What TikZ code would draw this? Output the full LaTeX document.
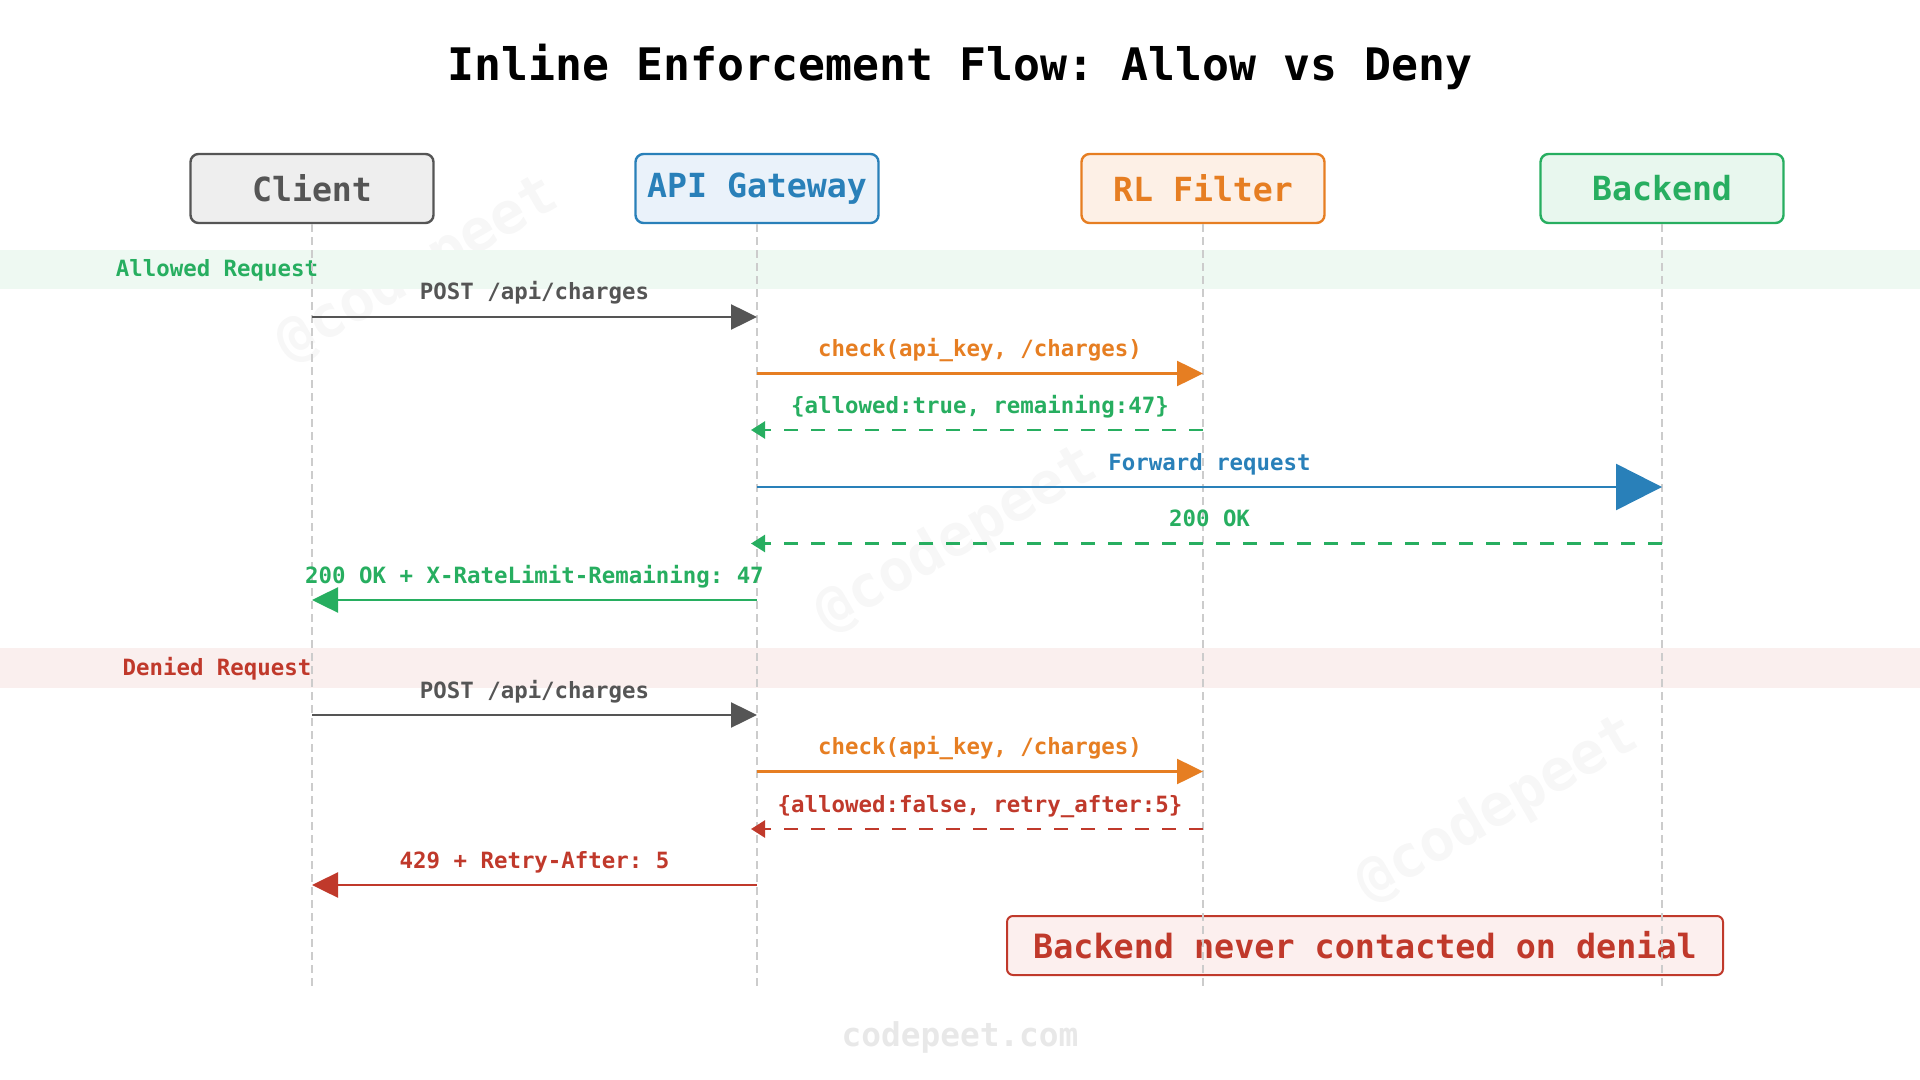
\documentclass[tikz,border=0pt]{standalone}
\usepackage{fontspec}
\setmonofont{DejaVu Sans Mono}
\usepackage{tikz}
\usetikzlibrary{arrows.meta,positioning}
\definecolor{inkgray}{HTML}{555555}
\definecolor{gwblue}{HTML}{2980B9}
\definecolor{rlorange}{HTML}{E67E22}
\definecolor{okgreen}{HTML}{27AE60}
\definecolor{denyred}{HTML}{C0392B}
\definecolor{lifegray}{HTML}{CCCCCC}
\definecolor{clfill}{HTML}{EEEEEE}
\definecolor{gwfill}{HTML}{EAF2FA}
\definecolor{rlfill}{HTML}{FDF0E6}
\definecolor{befill}{HTML}{E8F7EE}
\definecolor{notefill}{HTML}{FCEFEE}
\tikzset{
  actor/.style={draw, rounded corners=4pt, line width=1.2pt, minimum width=121.5pt, minimum height=34.5pt,
                font=\ttfamily\bfseries\fontsize{16.6}{20}\selectfont},
  life/.style={lifegray, line width=0.75pt, dash pattern=on 4pt off 2.5pt},
  msg/.style={-{Triangle[length=13pt,width=12.5pt]}, line width=1.25pt},
  ret/.style={-{Triangle[length=7pt,width=8.5pt]}, line width=1.25pt, dash pattern=on 7pt off 6.5pt, shorten >=-3pt},
  lbl/.style={midway, anchor=base, yshift=8.5pt, font=\ttfamily\bfseries\fontsize{11.2}{13}\selectfont},
  blabel/.style={anchor=base, font=\ttfamily\bfseries\fontsize{11.2}{13}\selectfont},
  notebox/.style={draw=denyred, fill=notefill, text=denyred, rounded corners=3pt, line width=1pt,
                  minimum width=358pt, minimum height=29.5pt, font=\ttfamily\bfseries\fontsize{16.7}{20}\selectfont},
  wm/.style={rotate=30, black!3, font=\ttfamily\bfseries\fontsize{29}{34}\selectfont},
  foot/.style={anchor=base, black!9, font=\ttfamily\bfseries\fontsize{16.4}{20}\selectfont}
}

\begin{document}
\begin{tikzpicture}[x=0.5pt, y=-0.5pt]
\useasboundingbox (0,0) rectangle (1920,1080);
% watermarks and bands
\foreach \i/\x/\y in {1/418/270, 2/957/540, 3/1498/810}
  \node[wm] (wm\i) at (\x,\y) {@codepeet};
\fill[okgreen!8] (0,250) rectangle (1920,289);
\fill[denyred!8] (0,648) rectangle (1920,688);
\node[blabel, okgreen] (alw) at (217,277) {Allowed Request};
\node[blabel, denyred] (dny) at (217,675) {Denied Request};

\node[anchor=base, font=\ttfamily\bfseries\fontsize{22.4}{26}\selectfont] (ttl) at (960,81) {Inline Enforcement Flow: Allow vs Deny};

% participants
\node[actor, draw=inkgray, fill=clfill, text=inkgray] (cl) at (312,188.5) {Client};
\node[actor, draw=gwblue, fill=gwfill, text=gwblue] (gw) at (757,188.5) {API Gateway};
\node[actor, draw=rlorange, fill=rlfill, text=rlorange] (rl) at (1203,188.5) {RL Filter};
\node[actor, draw=okgreen, fill=befill, text=okgreen] (be) at (1662,188.5) {Backend};

\node[notebox] (nt) at (1365,945.5) {Backend never contacted on denial};

\foreach \r/\y in {a1/317, a2/373.5, a3/430, a4/487, a5/543.5, a6/600, d1/715, d2/771.5, d3/829, d4/885, bot/986}
  \coordinate (\r) at (0,\y);
\foreach \a in {cl,gw,rl,be}
  \draw[life] (\a.south) -- (\a |- bot);

% allowed
\draw[msg, inkgray] (cl |- a1) -- node[lbl] {POST /api/charges} (gw |- a1);
\draw[msg, rlorange] (gw |- a2) -- node[lbl] {check(api\_key, /charges)} (rl |- a2);
\draw[ret, okgreen] (rl |- a3) -- node[lbl] {\{allowed:true, remaining:47\}} (gw |- a3);
\draw[msg, gwblue, -{Triangle[length=23pt,width=23pt]}] (gw |- a4) -- node[lbl] {Forward request} (be |- a4);
\draw[ret, okgreen] (be |- a5) -- node[lbl] {200 OK} (gw |- a5);
\draw[msg, okgreen] (gw |- a6) -- node[lbl] {200 OK + X-RateLimit-Remaining: 47} (cl |- a6);

% denied
\draw[msg, inkgray] (cl |- d1) -- node[lbl] {POST /api/charges} (gw |- d1);
\draw[msg, rlorange] (gw |- d2) -- node[lbl] {check(api\_key, /charges)} (rl |- d2);
\draw[ret, denyred] (rl |- d3) -- node[lbl] {\{allowed:false, retry\_after:5\}} (gw |- d3);
\draw[msg, denyred] (gw |- d4) -- node[lbl] {429 + Retry-After: 5} (cl |- d4);

\node[foot] (ft) at (960,1046) {codepeet.com};
\end{tikzpicture}
\end{document}
